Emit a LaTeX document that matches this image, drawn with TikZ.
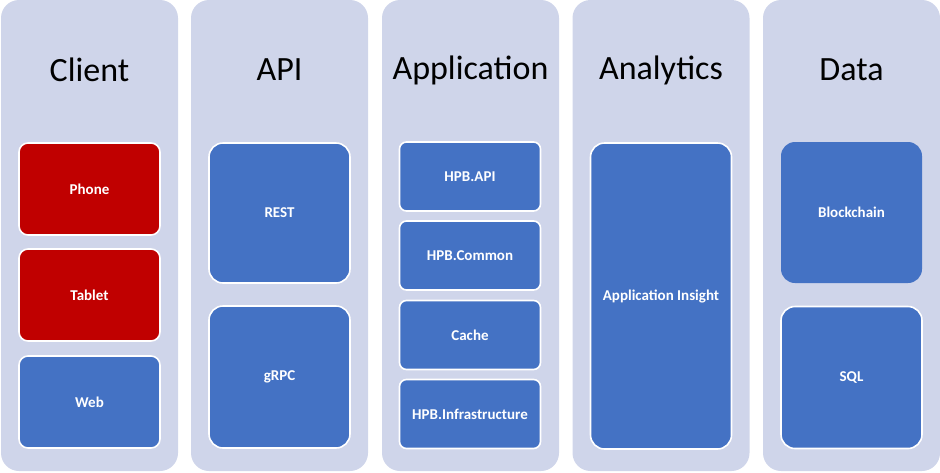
\documentclass[tikz,border=0pt]{standalone}
\usepackage{fontspec}
\setmainfont{Carlito}
\definecolor{laneFill}{HTML}{CFD5EA}
\definecolor{boxBlue}{HTML}{4472C4}
\definecolor{boxRed}{HTML}{C00000}
\tikzset{
  lane/.style={fill=laneFill, rounded corners=18pt, minimum width=177pt,
    minimum height=471pt, inner sep=0pt},
  title/.style={font=\fontsize{34}{40}\selectfont, text=black},
  part/.style={fill=boxBlue, draw=white, line width=1.6pt, minimum width=141pt,
    inner sep=0pt, text=white, font=\fontsize{15}{18}\selectfont\bfseries},
  redpart/.style={part, fill=boxRed}
}
\begin{document}
\begin{tikzpicture}[x=1pt,y=-1pt]
  \useasboundingbox (0,0) rectangle (940,472);
  % lanes
  \node[lane] (client) at (89.5,235.5) {};
  \node[lane] (api) at (279.5,235.5) {};
  \node[lane] (application) at (470.5,235.5) {};
  \node[lane] (analytics) at (661,235.5) {};
  \node[lane] (data) at (851.5,235.5) {};
  % lane titles
  \node[title] (clientT) at (89.5,70) {Client};
  \node[title] (apiT) at (279.5,70) {API};
  \node[title] (applicationT) at (470.5,70) {Application};
  \node[title] (analyticsT) at (661,70) {Analytics};
  \node[title] (dataT) at (851.5,70) {Data};
  % client
  \node[redpart, minimum height=92pt, rounded corners=9pt] (phone) at (89.5,189) {Phone};
  \node[redpart, minimum height=92pt, rounded corners=9pt] (tablet) at (89.5,295) {Tablet};
  \node[part, minimum height=92pt, rounded corners=9pt] (web) at (89.5,402) {Web};
  % api
  \node[part, minimum height=140pt, rounded corners=14pt] (rest) at (279.5,213) {REST};
  \node[part, minimum height=142pt, rounded corners=14pt] (grpc) at (279.5,377) {gRPC};
  % application
  \begin{scope}[every node/.append style={part, minimum height=69pt, rounded corners=7pt}]
    \node (hpbapi) at (470,176.5) {HPB.API};
    \node (hpbcommon) at (470,255.5) {HPB.Common};
    \node (cache) at (470,335) {Cache};
    \node (hpbinfra) at (470,414) {HPB.Infrastructure};
  \end{scope}
  % analytics
  \node[part, minimum height=306pt, rounded corners=14pt] (insight) at (661,296) {Application Insight};
  % data
  \node[part, draw=none, minimum height=141pt, rounded corners=14pt] (blockchain) at (851.5,212.5) {Blockchain};
  \node[part, minimum height=142pt, rounded corners=14pt] (sql) at (851.5,377.5) {SQL};
\end{tikzpicture}
\end{document}
